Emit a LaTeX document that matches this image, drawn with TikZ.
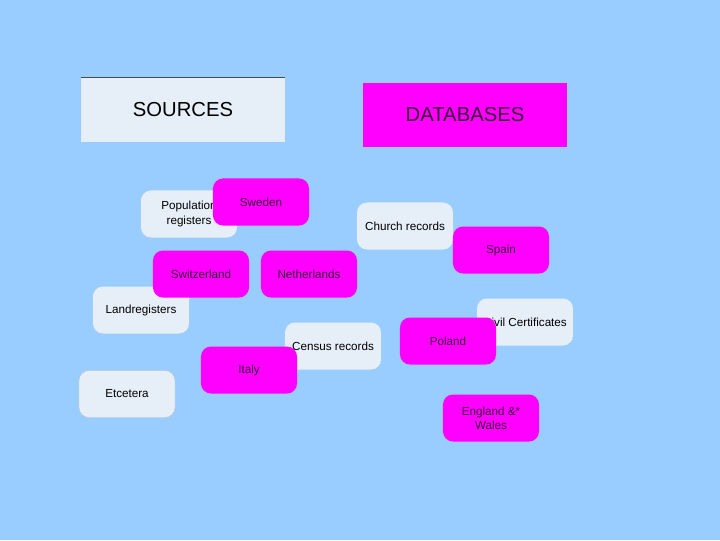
\documentclass[tikz,border=0pt]{standalone}
\usepackage{fontspec}
\setmainfont{Liberation Sans}
\usepackage{xcolor}
\usepackage{tikz}
\definecolor{skyback}{RGB}{153,204,255}
\definecolor{paleblue}{RGB}{230,238,248}
\definecolor{hotpink}{RGB}{255,0,255}
\definecolor{plumtext}{RGB}{60,0,60}
\tikzset{
  srcbox/.style={fill=paleblue,rounded corners=0.25cm,minimum width=2.4cm,minimum height=1.175cm,inner sep=0pt,align=center,font=\fontsize{8.3}{11}\selectfont},
  dbbox/.style={srcbox,fill=hotpink,text=plumtext},
  headbox/.style={minimum width=5.1cm,minimum height=1.6cm,inner sep=0pt,font=\fontsize{14.4}{17}\selectfont}
}

\begin{document}
\begin{tikzpicture}[x=0.025cm,y=-0.025cm]
        \fill[skyback] (0,0) rectangle (720,540);
        \node[headbox,fill=paleblue] (sources) at (183,110) {SOURCES};
        \draw[gray!60!black,line width=0.4pt] (sources.north west)--(sources.north east);
        \node[headbox,fill=hotpink,text=plumtext] (databases) at (465,115) {DATABASES};
        \node[srcbox] (population) at (189,214) {Population\\registers};
        \node[dbbox] (sweden) at (261,202) {Sweden};
        \node[srcbox] (church) at (405,226) {Church records};
        \node[dbbox] (spain) at (501,250) {Spain};
        \node[srcbox] (landreg) at (141,310) {Landregisters};
        \node[dbbox] (switzerland) at (201,274) {Switzerland};
        \node[dbbox] (netherlands) at (309,274) {Netherlands};
        \node[srcbox] (civil) at (525,322) {Civil Certificates};
        \node[dbbox] (poland) at (448,341) {Poland};
        \node[srcbox] (census) at (333,346) {Census records};
        \node[dbbox] (italy) at (249,370) {Italy};
        \node[srcbox,draw=gray!40!paleblue,line width=0.3pt] (etcetera) at (127,394) {Etcetera};
        \node[dbbox,font=\fontsize{8.3}{10}\selectfont] (england) at (491,418) {England \&*\\Wales};
    \end{tikzpicture}
\end{document}
